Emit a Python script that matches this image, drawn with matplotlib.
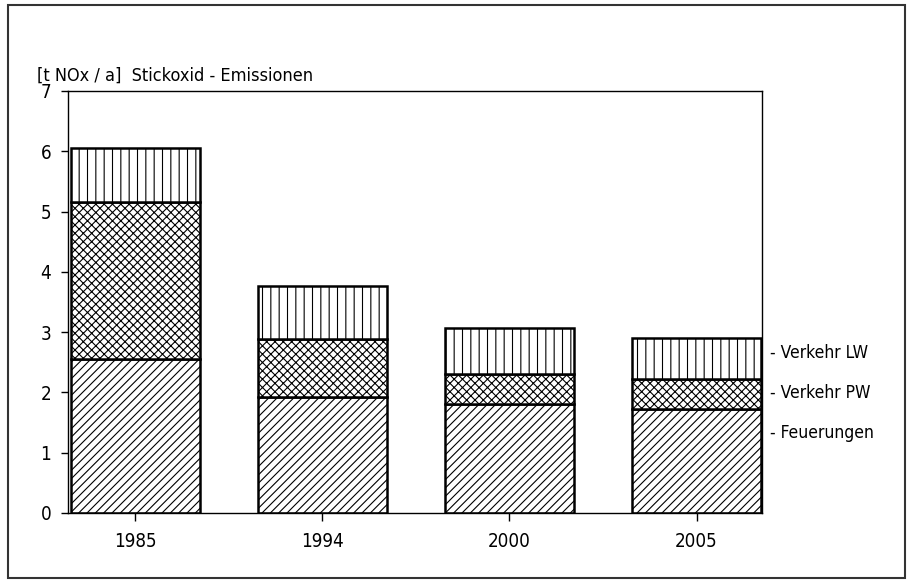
import matplotlib
matplotlib.use('Agg')
import matplotlib.pyplot as plt
import numpy as np

plt.rcParams['font.family'] = ['DejaVu Sans']
plt.rcParams['font.stretch'] = 'condensed'
plt.rcParams['hatch.linewidth'] = 0.8

# Daten (t NOx / a)
years = ['1985', '1994', '2000', '2005']
feuerungen = [2.55, 1.93, 1.80, 1.73]
verkehr_pw = [2.60, 0.96, 0.50, 0.50]
verkehr_lw = [0.90, 0.88, 0.77, 0.67]
series_names = ['Verkehr LW', 'Verkehr PW', 'Feuerungen']

fig = plt.figure(figsize=(9.17, 5.88), dpi=100, facecolor='white')
ax = fig.add_axes([0.0742, 0.1276, 0.7568, 0.7177])

x = np.arange(len(years))
w = 0.69
fe = np.array(feuerungen); pw = np.array(verkehr_pw); lw = np.array(verkehr_lw)
ax.bar(x, fe, w, color='white', edgecolor='black', hatch='////', linewidth=1.8)
ax.bar(x, pw, w, bottom=fe, color='white', edgecolor='black', hatch='xxxx', linewidth=1.8)
ax.bar(x, lw, w, bottom=fe + pw, color='white', edgecolor='black', hatch='||', linewidth=1.8)

ax.set_xlim(-0.36, 3.35)
ax.set_ylim(0, 7)
ax.set_yticks(range(0, 8))
ax.set_xticks(x)
ax.set_xticklabels(years)
ax.tick_params(axis='y', direction='out', length=5, width=1, pad=7, labelsize=13.5)
ax.tick_params(axis='x', direction='out', length=6, width=1, pad=8, labelsize=13.5)
for sp in ax.spines.values():
    sp.set_linewidth(1.0)

# Beschriftung rechts
for name, yf in zip(series_names, [0.379, 0.284, 0.190]):
    ax.text(1.012, yf, '- ' + name, transform=ax.transAxes, fontsize=12.5,
            va='center', ha='left')

fig.text(0.040, 0.871, '[t NOx / a]  Stickoxid - Emissionen', fontsize=13,
         va='center', ha='left')

# Rahmen
fig.patches.append(plt.Rectangle((0.009, 0.017), 0.978, 0.974, fill=False,
                                 edgecolor='#333333', linewidth=1.5,
                                 transform=fig.transFigure, figure=fig))

fig.savefig('out.png', dpi=100, facecolor='white')
